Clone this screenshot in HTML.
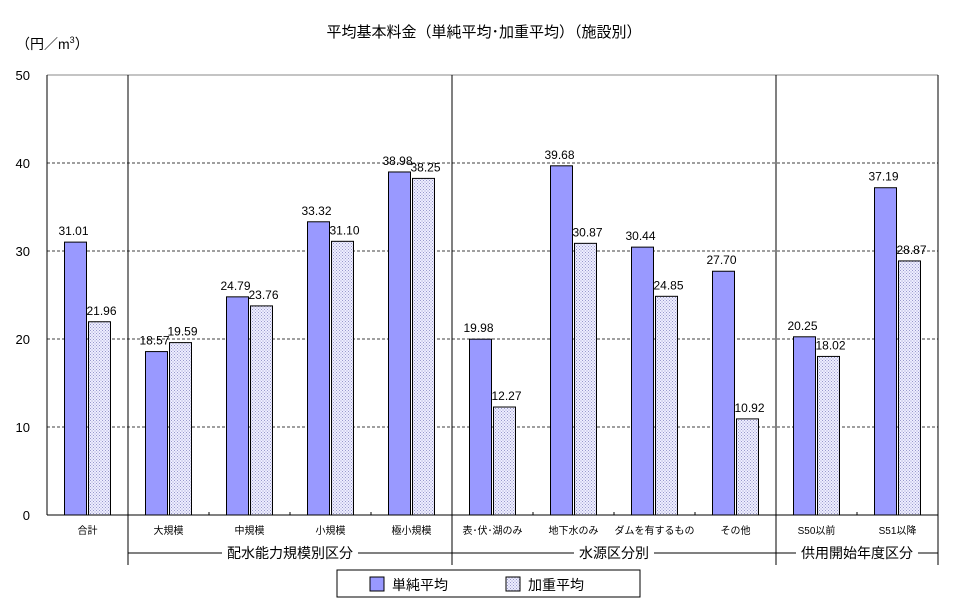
<!DOCTYPE html>
<html><head><meta charset="utf-8"><style>
body{margin:0;background:#fff;}
svg{display:block;font-family:"Liberation Sans","Noto Sans CJK JP",sans-serif;}
</style></head><body>
<svg id="chart" width="969" height="602" viewBox="0 0 969 602">
<defs>
<pattern id="hatch" width="3" height="3" patternUnits="userSpaceOnUse">
<rect width="3" height="3" fill="#eef"/>
<rect x="0" y="0" width="1" height="1" fill="#99c"/>
<rect x="1.5" y="1.5" width="1" height="1" fill="#99c"/>
</pattern>
</defs>
<text x="484" y="37" font-size="15" text-anchor="middle">平均基本料金（単純平均･加重平均）（施設別）</text>
<text x="16" y="49" font-size="14">（円／m<tspan font-size="9" dy="-6">3</tspan><tspan dy="6">）</tspan></text>
<g id="grid"></g>
<g id="bars"></g>
<g id="axes"></g>
<g>
<rect x="337" y="570" width="303" height="27" fill="#fff" stroke="#000"/>
<rect x="370" y="577" width="14" height="14" fill="#9999ff" stroke="#000"/>
<text x="392" y="590" font-size="14">単純平均</text>
<rect x="506" y="577" width="14" height="14" fill="url(#hatch)" stroke="#000"/>
<text x="528" y="590" font-size="14">加重平均</text>
</g>
</svg>
<script>
const categories=["合計","大規模","中規模","小規模","極小規模","表･伏･湖のみ","地下水のみ","ダムを有するもの","その他","S50以前","S51以降"];
const simpleAvg=[31.01,18.57,24.79,33.32,38.98,19.98,39.68,30.44,27.70,20.25,37.19];
const weightedAvg=[21.96,19.59,23.76,31.10,38.25,12.27,30.87,24.85,10.92,18.02,28.87];
const yTicks=[0,10,20,30,40,50];
const groups=[{label:"配水能力規模別区分",from:1,to:4},{label:"水源区分別",from:5,to:8},{label:"供用開始年度区分",from:9,to:10}];
const X0=47,X1=938,Y0=515,Y1=75,YMAX=50;
const cw=(X1-X0)/categories.length;
const y=v=>Y0-(v/YMAX)*(Y0-Y1);
const cx=i=>X0+cw*(i+0.5);
const NS="http://www.w3.org/2000/svg";
function mk(t,a,p){const e=document.createElementNS(NS,t);for(const k in a)e.setAttribute(k,a[k]);p.appendChild(e);return e;}
const gridG=document.getElementById('grid'),barsG=document.getElementById('bars'),axesG=document.getElementById('axes');
yTicks.forEach(t=>{
 if(t>0&&t<YMAX){const l=mk('line',{x1:X0,x2:X1,y1:y(t),y2:y(t),stroke:'#000','stroke-dasharray':'3,2','stroke-width':0.8},gridG);
 
 }
 const tx=mk('text',{x:30,y:y(t)+5,'font-size':13,'text-anchor':'end'},axesG);tx.textContent=t;
 
 
});
const topBorder=mk('line',{x1:X0,x2:X1,y1:Y1,y2:Y1,stroke:'#888'},axesG);


const rb=mk('line',{x1:X1,x2:X1,y1:Y1,y2:Y0,stroke:'#000'},axesG);


const ya=mk('line',{x1:X0,x2:X0,y1:Y1,y2:Y0,stroke:'#000'},axesG);


const xa=mk('line',{x1:X0,x2:X1,y1:Y0,y2:Y0,stroke:'#000'},axesG);


categories.forEach((c,i)=>{
 const b1=mk('rect',{x:cx(i)-23,y:y(simpleAvg[i]),width:22,height:Y0-y(simpleAvg[i]),fill:'#9999ff',stroke:'#000'},barsG);
 
 
 const b2=mk('rect',{x:cx(i)+1,y:y(weightedAvg[i]),width:22,height:Y0-y(weightedAvg[i]),fill:'url(#hatch)',stroke:'#000'},barsG);
 
 
 const v1=mk('text',{x:cx(i)-14,y:y(simpleAvg[i])-7,'font-size':12,'text-anchor':'middle'},barsG);v1.textContent=simpleAvg[i].toFixed(2);
 
 
 const v2=mk('text',{x:cx(i)+14,y:y(weightedAvg[i])-7,'font-size':12,'text-anchor':'middle'},barsG);v2.textContent=weightedAvg[i].toFixed(2);
 
 
 const cl=mk('text',{x:cx(i),y:534,'font-size':10,'text-anchor':'middle'},axesG);cl.textContent=c;
 
 
 if(i>0){const tk=mk('line',{x1:X0+cw*i,x2:X0+cw*i,y1:Y0,y2:Y0-3,stroke:'#000'},axesG);
 
 }
});
groups.forEach((g,k)=>{
 const xl=X0+cw*g.from,xr=X0+cw*(g.to+1);
 const sep=mk('line',{x1:xl,x2:xl,y1:Y1,y2:565,stroke:'#000'},axesG);
 
 
 const mid=(xl+xr)/2,w=g.label.length*14+10;
 const la=mk('line',{x1:xl,x2:mid-w/2,y1:553,y2:553,stroke:'#000'},axesG);
 
 
 const lb=mk('line',{x1:mid+w/2,x2:xr,y1:553,y2:553,stroke:'#000'},axesG);
 
 
 const gt=mk('text',{x:mid,y:558,'font-size':14,'text-anchor':'middle'},axesG);gt.textContent=g.label;
 
 
});
const eb=mk('line',{x1:X1,x2:X1,y1:Y0,y2:565,stroke:'#000'},axesG);


</script>
</body></html>
